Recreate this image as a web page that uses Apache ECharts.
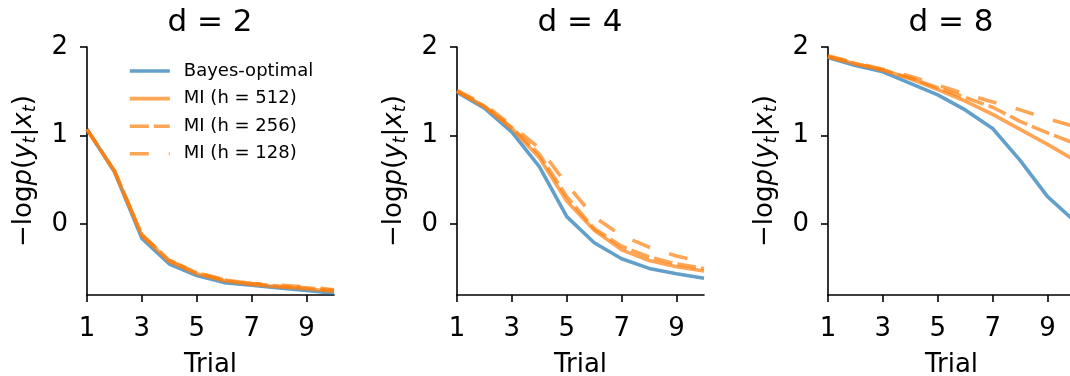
<!DOCTYPE html>
<html>
<head>
<meta charset="utf-8">
<script src="https://cdn.jsdelivr.net/npm/echarts@6/dist/echarts.min.js"></script>
<style>
  html, body { margin: 0; padding: 0; background: #fff; overflow: hidden; }
  #chart { width: 1080px; height: 376px; }
</style>
</head>
<body>
<div id="chart"></div>
<script>
const trials = [1, 2, 3, 4, 5, 6, 7, 8, 9, 10];
const panelTitles = ["d = 2", "d = 4", "d = 8"];
const seriesNames = ["Bayes-optimal", "MI (h = 512)", "MI (h = 256)", "MI (h = 128)"];
const xTicks = [1, 3, 5, 7, 9];
const yTicks = [0, 1, 2];

// d = 2
const d2Bayes = [1.07, 0.59, -0.16, -0.45, -0.58, -0.66, -0.69, -0.72, -0.75, -0.78];
const d2Mi512 = [1.07, 0.60, -0.13, -0.42, -0.56, -0.64, -0.68, -0.71, -0.73, -0.76];
const d2Mi256 = [1.07, 0.60, -0.12, -0.41, -0.55, -0.63, -0.67, -0.70, -0.72, -0.75];
const d2Mi128 = [1.07, 0.60, -0.12, -0.41, -0.55, -0.63, -0.67, -0.69, -0.71, -0.74];
// d = 4
const d4Bayes = [1.49, 1.31, 1.04, 0.65, 0.085, -0.21, -0.39, -0.50, -0.56, -0.61];
const d4Mi512 = [1.50, 1.33, 1.08, 0.75, 0.26, -0.07, -0.29, -0.41, -0.48, -0.53];
const d4Mi256 = [1.50, 1.33, 1.09, 0.79, 0.31, -0.05, -0.25, -0.37, -0.45, -0.50];
const d4Mi128 = [1.51, 1.35, 1.11, 0.86, 0.45, 0.08, -0.13, -0.26, -0.36, -0.43];
// d = 8
const d8Bayes = [1.88, 1.79, 1.72, 1.59, 1.46, 1.29, 1.08, 0.72, 0.31, 0.03];
const d8Mi512 = [1.89, 1.81, 1.74, 1.64, 1.52, 1.39, 1.24, 1.07, 0.90, 0.72];
const d8Mi256 = [1.89, 1.81, 1.74, 1.65, 1.54, 1.43, 1.32, 1.16, 1.03, 0.91];
const d8Mi128 = [1.90, 1.82, 1.75, 1.67, 1.57, 1.47, 1.38, 1.29, 1.19, 1.10];

const panels = [
  [d2Bayes, d2Mi512, d2Mi256, d2Mi128],
  [d4Bayes, d4Mi512, d4Mi256, d4Mi128],
  [d8Bayes, d8Mi512, d8Mi256, d8Mi128],
];

const FONT = "DejaVu Sans";
const BLUE = "#1f77b4";
const ORANGE = "#ff7f0e";

// line looks per series: colour + dash
const looks = [
  { color: BLUE, type: "solid" },
  { color: ORANGE, type: "solid" },
  { color: ORANGE, type: [19, 5] },
  { color: ORANGE, type: [19, 20] },
];

const gridLefts = [87, 457, 828];

const chart = echarts.init(document.getElementById("chart"), null, { renderer: "canvas" });

// fixed plot boxes; don't let v6 shrink them to fit labels
const grid = gridLefts.map((l) => ({
  left: l, top: 47, width: 247, height: 248,
  containLabel: false,
  outerBoundsMode: "none",
}));

const axisLineStyle = { color: "#000", width: 1.6 };

const xAxis = gridLefts.map((_, i) => ({
  type: "value",
  gridIndex: i,
  min: 1,
  max: 10,
  name: "Trial",
  nameLocation: "middle",
  nameGap: 57,
  nameTextStyle: { fontFamily: FONT, fontSize: 26, color: "#000" },
  axisLine: { show: true, onZero: false, lineStyle: axisLineStyle },
  axisTick: { show: true, length: 7, lineStyle: axisLineStyle, customValues: xTicks },
  axisLabel: { fontFamily: FONT, fontSize: 26, color: "#000", margin: 21, customValues: xTicks },
  splitLine: { show: false },
}));

const yAxis = gridLefts.map((_, i) => ({
  type: "value",
  gridIndex: i,
  min: -0.8,
  max: 2,
  name: "{n|−log}{i|p}{n|(}{i|y}{s|t}{n||}{i|x}{s|t}{n|)}",
  nameLocation: "middle",
  nameRotate: 90,
  nameGap: 48,
  nameTextStyle: {
    fontFamily: FONT,
    color: "#000",
    rich: {
      n: { fontFamily: FONT, fontSize: 26, lineHeight: 30, color: "#000" },
      i: { fontFamily: FONT, fontSize: 26, lineHeight: 30, fontStyle: "italic", color: "#000" },
      s: { fontFamily: FONT, fontSize: 18, lineHeight: 16, fontStyle: "italic", verticalAlign: "bottom", color: "#000" },
    },
  },
  axisLine: { show: true, onZero: false, lineStyle: axisLineStyle },
  axisTick: { show: true, length: 7, lineStyle: axisLineStyle, customValues: yTicks },
  axisLabel: { fontFamily: FONT, fontSize: 26, color: "#000", margin: 19, customValues: yTicks },
  splitLine: { show: false },
}));

const series = [];
panels.forEach((lines, p) => {
  lines.forEach((vals, k) => {
    series.push({
      name: seriesNames[k],
      type: "line",
      xAxisIndex: p,
      yAxisIndex: p,
      data: trials.map((t, j) => [t, vals[j]]),
      symbol: "none",
      showSymbol: false,
      clip: true,
      lineStyle: { color: looks[k].color, width: 3.6, type: looks[k].type, opacity: 0.7 },
      itemStyle: { color: looks[k].color, opacity: 0.7 },
      z: 2 + k,
    });
  });
});

const option = {
  animation: false,
  backgroundColor: "#fff",
  title: panelTitles.map((t, i) => ({
    text: t,
    left: gridLefts[i] + 123,
    textAlign: "center",
    top: 7,
    padding: 0,
    textStyle: { fontFamily: FONT, fontSize: 31, fontWeight: "normal", color: "#000" },
  })),
  legend: {
    data: seriesNames,
    orient: "vertical",
    left: 128,
    top: 62,
    padding: 0,
    itemWidth: 40,
    itemHeight: 20,
    itemGap: 9.6,
    // hide the circle marker, keep only the line
    itemStyle: { opacity: 0 },
    lineStyle: { width: 3.6 },
    textStyle: { fontFamily: FONT, fontSize: 18, color: "#000", padding: [0, 0, 0, 9] },
    selectedMode: false,
  },
  grid,
  xAxis,
  yAxis,
  series,
};

chart.setOption(option);
</script>
</body>
</html>
